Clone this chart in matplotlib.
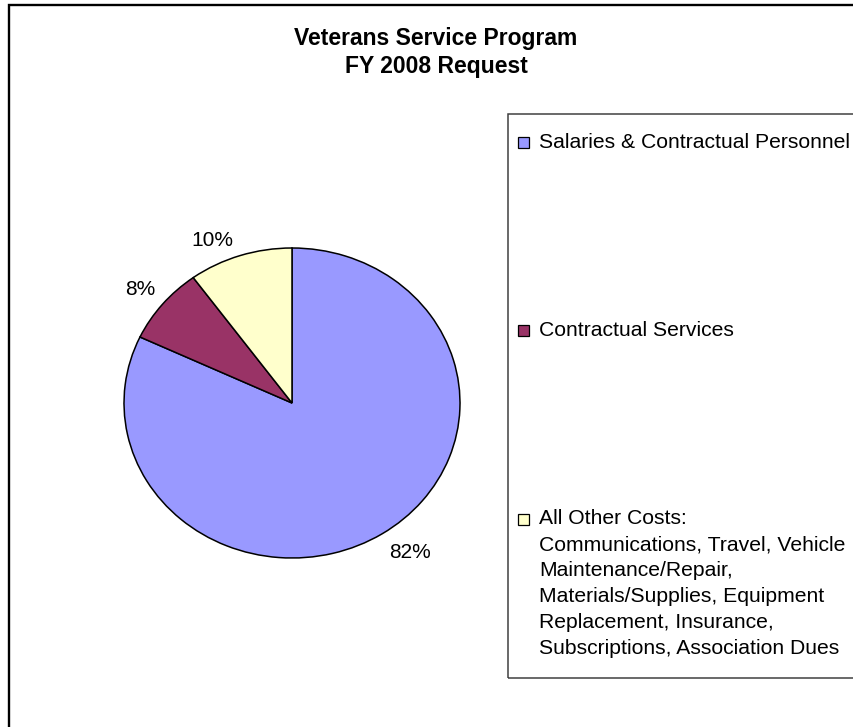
import numpy as np
import matplotlib
matplotlib.use('Agg')
import matplotlib.pyplot as plt
from matplotlib.patches import Rectangle
from matplotlib.transforms import offset_copy

plt.rcParams['font.family'] = ['Liberation Sans', 'DejaVu Sans']

# ── Data ──
categories = ['Salaries & Contractual Personnel',
              'Contractual Services',
              'All Other Costs:\nCommunications, Travel, Vehicle\nMaintenance/Repair,\n'
              'Materials/Supplies, Equipment\nReplacement, Insurance,\nSubscriptions, Association Dues']
shares = [82, 8, 10]
colors = ['#9999FF', '#993366', '#FFFFCC']
title = 'Veterans Service Program\nFY 2008 Request'

W, H = 854, 727
fig = plt.figure(figsize=(W / 100, H / 100), dpi=100)


def fx(x):
    return x / W


def fy(y):
    return 1 - y / H


# outer chart frame (runs off the right/bottom edges)
fig.add_artist(Rectangle((fx(9.5), fy(2000)), 3000 / W, (2000 - 5) / H,
                         transform=fig.transFigure, fill=False,
                         ec='black', lw=1.7, zorder=0))

# va='baseline' on multi-line text pins the last line
fig.text(fx(436), fy(73), title, ha='center', va='baseline', fontsize=16.5,
         fontweight='bold', linespacing=1.28)

# ── Pie (elliptical, like the original Excel plot area) ──
ax = fig.add_axes([fx(124), fy(558), 336 / W, 310 / H])
wedges, _ = ax.pie(shares, colors=colors, startangle=90, counterclock=False,
                   wedgeprops=dict(edgecolor='black', linewidth=1.1))
ax.set_aspect('auto')
ax.set_xlim(-1, 1)
ax.set_ylim(-1, 1)
ax.axis('off')

# percent labels sit just outside the rim, Excel-style
for w, v in zip(wedges, shares):
    ang = np.deg2rad((w.theta1 + w.theta2) / 2)
    cx, cy = np.cos(ang), np.sin(ang)
    sx = 1 if cx >= 0 else -1
    sy = 1 if cy >= 0 else -1
    tr = offset_copy(ax.transData, fig=fig, x=7 * sx, y=17 * sy, units='dots')
    ax.text(cx, cy, f'{v}%', transform=tr, ha='left' if sx > 0 else 'right',
            va='center_baseline', fontsize=15, clip_on=False)

# ── Legend box ──
fig.add_artist(Rectangle((fx(508), fy(678)), 1000 / W, (678 - 114) / H,
                         transform=fig.transFigure, fill=False,
                         ec='#404040', lw=1.1))
entry_baseline = [148, 336, 525]
line_px = 25.8
for lab, c, yb in zip(categories, colors, entry_baseline):
    fig.add_artist(Rectangle((fx(518), fy(yb)), 11 / W, 11 / H,
                             transform=fig.transFigure, fc=c, ec='black', lw=0.9))
    n = lab.count('\n')
    fig.text(fx(539), fy(yb + n * line_px), lab, ha='left', va='baseline',
             fontsize=15.2, linespacing=1.46)

fig.savefig('out.png', dpi=100)
